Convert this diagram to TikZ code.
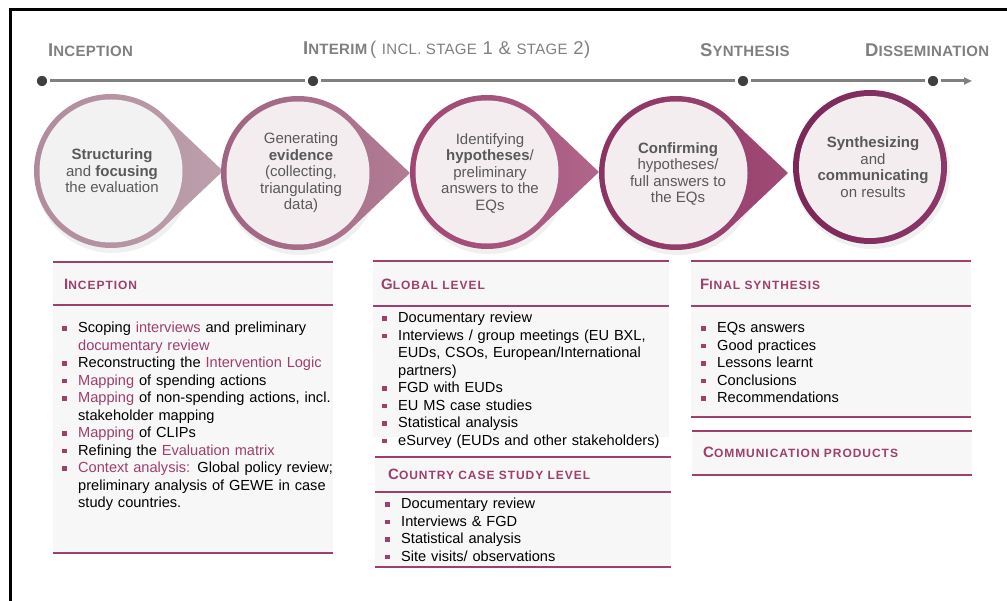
\documentclass[tikz,border=0pt]{standalone}
\usepackage{fontspec}
\setmainfont{Liberation Sans}
\usetikzlibrary{positioning,calc,arrows.meta}

\definecolor{plum}{HTML}{9E3F6E}
\definecolor{txtgrey}{HTML}{595959}
\definecolor{phasegrey}{HTML}{808080}
\definecolor{dotgrey}{HTML}{3F3F3F}
\definecolor{panelbg}{HTML}{F7F7F7}
\definecolor{discbg}{HTML}{F3EDF0}
\definecolor{discgrey}{HTML}{F2F2F2}
% ring colours, step one to five
\definecolor{ringAl}{HTML}{B08A9B}\definecolor{ringAr}{HTML}{BCA0AC}
\definecolor{ringBl}{HTML}{9E6382}\definecolor{ringBr}{HTML}{B07C93}
\definecolor{ringCl}{HTML}{9E4470}\definecolor{ringCr}{HTML}{B0668B}
\definecolor{ringDl}{HTML}{8A3261}\definecolor{ringDr}{HTML}{A04A76}
\definecolor{ringEl}{HTML}{7A2657}\definecolor{ringEr}{HTML}{8C3868}

\newcommand\hl[1]{\textcolor{plum}{#1}}
\newcommand\sqbullet{\textcolor{plum}{\rule[0.25ex]{4.5pt}{4.5pt}}}
\newcommand\itm{\par\hangindent=16pt\hangafter=1\noindent\makebox[16pt][l]{\sqbullet}}
% small caps made by hand: large initial, smaller capitals after it
\newcommand\phasecap[2]{{\addfontfeature{LetterSpace=2}{\fontsize{18.5}{18}\selectfont #1}{\fontsize{15}{15}\selectfont #2}}}
\newcommand\headcap[2]{{\addfontfeature{LetterSpace=8}{\fontsize{15}{15}\selectfont #1}{\fontsize{12}{12}\selectfont #2}}}

% disc with a pointer to the right: x, y, ring left, ring right, inside
\newcommand\stepdisc[5]{%
  \fill[black,opacity=0.06] (#1+2,#2+4) circle[radius=78];
  \shade[left color=#3,right color=#4] ($(#1,#2)+(45:77)$) -- ($(#1,#2)+(0:112)$) -- ($(#1,#2)+(-45:77)$)
    arc[start angle=-45,end angle=-315,radius=77] -- cycle;
  \fill[#5] (#1,#2) circle[radius=71.5];}

\begin{document}
\begin{tikzpicture}[x=1pt,y=-1pt,>=Triangle,
  phase/.style={anchor=west,inner sep=0pt,text=phasegrey,font=\bfseries},
  milestone/.style={circle,fill=dotgrey,draw=white,line width=2.5pt,minimum size=13pt,inner sep=0pt},
  timeline/.style={phasegrey,line width=3pt},
  steptext/.style={align=center,text=txtgrey,inner sep=0pt,font=\fontsize{15}{16.5}\selectfont},
  headlabel/.style={anchor=west,inner sep=0pt,text=plum,font=\bfseries},
  itemlist/.style={anchor=north west,inner sep=0pt,text width=#1,align=left,font=\fontsize{14.6}{17.5}\selectfont},
  panelrule/.style={plum,line width=2pt}]
\useasboundingbox (0,0) rectangle (1007,601);
\draw[line width=3pt] (10,601) -- (10,10) -- (1007,10);

% phases and time line
\node[phase] (incLbl) at (48,50) {\phasecap{I}{NCEPTION}};
\node[phase] (intLbl) at (303,50) {\phasecap{I}{NTERIM} {\mdseries\addfontfeature{LetterSpace=3}\fontsize{18.5}{18}\selectfont( \phasecap{}{INCL. STAGE} 1 \& \phasecap{}{STAGE} 2)}};
\node[phase] (synLbl) at (700,50) {\phasecap{S}{YNTHESIS}};
\node[phase] (disLbl) at (865,50) {\phasecap{D}{ISSEMINATION}};

\node[milestone] (m1) at (42,81) {};
\node[milestone] (m2) at (313,81) {};
\node[milestone] (m3) at (743,81) {};
\node[milestone] (m4) at (933,81) {};
\coordinate (tlEnd) at (972,81);
\draw[timeline] (m1) -- (m2);
\draw[timeline] (m2) -- (m3);
\draw[timeline] (m3) -- (m4);
\draw[timeline,-{Triangle[length=8pt,width=7pt]}] (m4) -- (tlEnd);

% the five steps
\stepdisc{111}{171}{ringAl}{ringAr}{discgrey}
\stepdisc{298}{173}{ringBl}{ringBr}{discbg}
\stepdisc{487}{172}{ringCl}{ringCr}{discbg}
\stepdisc{676}{173}{ringDl}{ringDr}{discbg}
\fill[black,opacity=0.06] (872,171) circle[radius=78];
\shade[left color=ringEl,right color=ringEr] (870,167) circle[radius=77];
\fill[discbg] (870,167) circle[radius=71];

\node[steptext] (s1) at (112,171) {\textbf{Structuring}\\and \textbf{focusing}\\the evaluation};
\node[steptext] (s2) at (301,173) {Generating\\\textbf{evidence}\\(collecting,\\triangulating\\data)};
\node[steptext] (s3) at (490,173) {Identifying\\\textbf{hypotheses}/\\preliminary\\answers to the\\EQs};
\node[steptext] (s4) at (678,174) {\textbf{Confirming}\\hypotheses/\\full answers to\\the EQs};
\node[steptext] (s5) at (873,167) {\textbf{Synthesizing}\\and\\\textbf{communicating}\\on results};

% panels
\fill[panelbg] (53,262) rectangle (333,553);
\draw[panelrule] (53,262) -- (333,262);
\draw[panelrule] (53,305) -- (333,305);
\draw[panelrule] (53,553) -- (333,553);
\node[headlabel] (incHead) at (64,284) {\headcap{I}{NCEPTION}};
\node[itemlist=300] (incList) at (62,315) {%
  \itm Scoping \hl{interviews} and preliminary\newline \hl{documentary review}
  \itm Reconstructing the \hl{Intervention Logic}
  \itm \hl{Mapping} of spending actions
  \itm \hl{Mapping} of non-spending actions, incl.\newline stakeholder mapping
  \itm \hl{Mapping} of CLIPs
  \itm Refining the \hl{Evaluation matrix}
  \itm \hl{Context analysis:} Global policy review;\newline preliminary analysis of GEWE in case\newline study countries.\par};

\fill[panelbg] (373,261) rectangle (669,437);
\draw[panelrule] (373,261) -- (669,261);
\draw[panelrule] (373,306) -- (669,306);
\node[headlabel] (globHead) at (381,284) {\headcap{G}{LOBAL LEVEL}};
\node[itemlist=320] (globList) at (382,305) {%
  \itm Documentary review
  \itm Interviews / group meetings (EU BXL,\newline EUDs, CSOs, European/International\newline partners)
  \itm FGD with EUDs
  \itm EU MS case studies
  \itm Statistical analysis
  \itm eSurvey (EUDs and other stakeholders)\par};

\fill[panelbg] (375,457) rectangle (671,567);
\draw[panelrule] (375,457) -- (671,457);
\draw[panelrule] (375,492) -- (671,492);
\draw[panelrule] (375,567) -- (671,567);
\node[headlabel] (ccsHead) at (388,474) {\headcap{C}{OUNTRY CASE STUDY LEVEL}};
\node[itemlist=300] (ccsList) at (385,491) {%
  \itm Documentary review
  \itm Interviews \& FGD
  \itm Statistical analysis
  \itm Site visits/ observations\par};

\fill[panelbg] (691,261) rectangle (971,417);
\draw[panelrule] (691,261) -- (971,261);
\draw[panelrule] (691,306) -- (971,306);
\draw[panelrule] (691,417) -- (971,417);
\node[headlabel] (finHead) at (700,284) {\headcap{F}{INAL SYNTHESIS}};
\node[itemlist=260] (finList) at (701,315) {%
  \itm EQs answers
  \itm Good practices
  \itm Lessons learnt
  \itm Conclusions
  \itm Recommendations\par};

\fill[panelbg] (692,431) rectangle (972,475);
\draw[panelrule] (692,431) -- (972,431);
\draw[panelrule] (692,475) -- (972,475);
\node[headlabel] (commHead) at (703,452) {\headcap{C}{OMMUNICATION PRODUCTS}};
\end{tikzpicture}
\end{document}
